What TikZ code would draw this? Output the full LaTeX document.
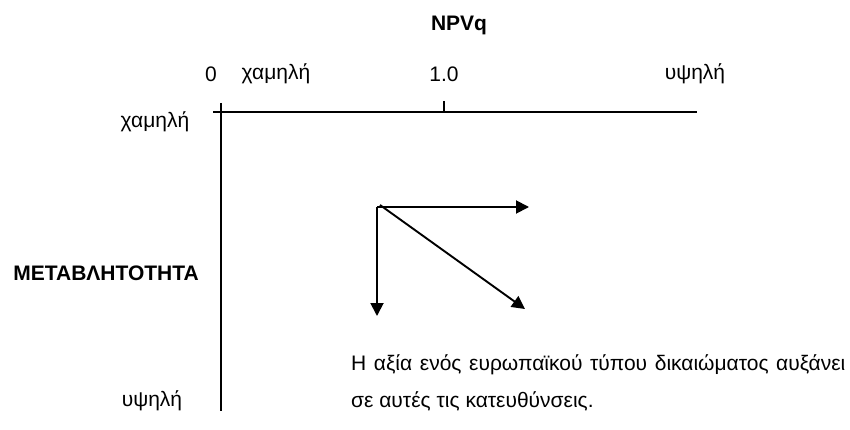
\documentclass[tikz,border=0pt]{standalone}
\usepackage{fontspec}
\setmainfont{Liberation Sans}
\usetikzlibrary{arrows.meta}
\begin{document}
\begin{tikzpicture}[x=1pt,y=-1pt,
  lbl/.style={font=\fontsize{21}{25}\selectfont, inner sep=0pt},
  blbl/.style={lbl, font=\fontsize{21}{25}\selectfont\bfseries},
  axis/.style={line width=1.3pt},
  dirarrow/.style={line width=1.9pt, -{Triangle[length=13pt,width=13pt]}}]
\useasboundingbox (0,0) rectangle (850,430);
\node[blbl] (title) at (459,25) {NPVq};
\node[lbl] (zero) at (211,74) {0};
\node[lbl] (lowx) at (276,74) {χαμηλή};
\node[lbl] (one) at (444,74) {1.0};
\node[lbl] (highx) at (695,74) {υψηλή};
\node[lbl] (lowy) at (155,122) {χαμηλή};
\node[blbl, anchor=east] (vol) at (199,273) {ΜΕΤΑΒΛΗΤΟΤΗΤΑ};
\node[lbl] (highy) at (152,401) {υψηλή};
\coordinate (hl) at (213,112);
\coordinate (hr) at (697,112);
\coordinate (vt) at (221,103);
\coordinate (vb) at (221,411);
\coordinate (tickb) at (444,112);
\coordinate (tickt) at (444,101);
\draw[axis] (hl) -- (hr);
\draw[axis] (vt) -- (vb);
\draw[axis] (tickb) -- (tickt);
\coordinate (o) at (377,207);
\coordinate (right) at (529,207);
\coordinate (down) at (377,316);
\coordinate (diag) at (525,309);
\draw[dirarrow] (o) -- (right);
\draw[dirarrow] (o) -- (down);
\draw[dirarrow] ([xshift=3pt,yshift=2pt]o) -- (diag);
\node[lbl, anchor=west] (txt1) at (351,365) {\spaceskip=7.6pt Η αξία ενός ευρωπαϊκού τύπου δικαιώματος αυξάνει};
\node[lbl, anchor=west] (txt2) at (351,401) {σε αυτές τις κατευθύνσεις.};
\end{tikzpicture}
\end{document}
